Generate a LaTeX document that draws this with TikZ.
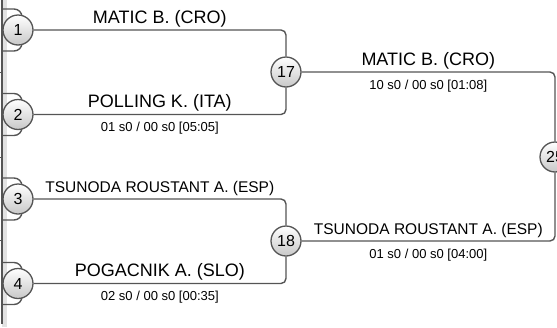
\documentclass[tikz,border=0pt]{standalone}
\usepackage{fontspec}
\setmainfont{Liberation Sans}
\definecolor{wiregray}{HTML}{555555}
\definecolor{bandgray}{HTML}{E2E2E2}
\definecolor{ballgray}{HTML}{C8C8C8}

\begin{document}
\begin{tikzpicture}[x=1pt,y=-1pt,
    wire/.style={wiregray,line width=1.4pt,rounded corners=5pt},
    seed/.style={circle,draw=wiregray,line width=1.3pt,top color=white,bottom color=ballgray,minimum size=30pt,inner sep=0pt,font=\fontsize{16}{16}\selectfont},
    player/.style={text=black,font=\fontsize{18}{18}\selectfont,anchor=base,yshift=7pt,inner sep=0pt},
    longplayer/.style={player,font=\fontsize{15.5}{15.5}\selectfont},
    score/.style={text=black,font=\fontsize{13}{13}\selectfont,anchor=base,yshift=-17pt,inner sep=0pt}]
    \useasboundingbox (0,0) rectangle (557,327);
    \fill[bandgray] (2,0) rectangle (7,327);
    \draw[wiregray,line width=1.5pt] (1.8,0) -- (1.8,324);
    \foreach \y in {72,157,240} \draw[wiregray,line width=1pt] (0,\y) -- (2,\y);
    \foreach \y in {30,114.5,199,283.5} \draw[wire,rounded corners=8pt] (2,\y-21) -- (22,\y-21) -- (22,\y+21) -- (2,\y+21);
    \node[seed] (s1) at (18,30) {1};
    \node[seed] (s2) at (18,114.5) {2};
    \node[seed] (s3) at (18,199) {3};
    \node[seed] (s4) at (18,283.5) {4};
    \node[seed] (m17) at (286,72) {17};
    \node[seed] (m18) at (286,241) {18};
    \node[seed] (m25) at (555,157) {25};
    \draw[wire] (s1.east) -| (m17.north) node[player,pos=.25] (p1) {MATIC B. (CRO)};
    \draw[wire] (s2.east) -| (m17.south) node[player,pos=.25] (p2) {POLLING K. (ITA)}
        node[score,pos=.25] (r17) {01 s0 / 00 s0 [05:05]};
    \draw[wire] (s3.east) -| (m18.north) node[longplayer,pos=.25] (p3) {TSUNODA ROUSTANT A. (ESP)};
    \draw[wire] (s4.east) -| (m18.south) node[player,pos=.25] (p4) {POGACNIK A. (SLO)}
        node[score,pos=.25] (r18) {02 s0 / 00 s0 [00:35]};
    \draw[wire] (m17.east) -| (m25.north) node[player,pos=.25] (w17) {MATIC B. (CRO)}
        node[score,pos=.25] (r25a) {10 s0 / 00 s0 [01:08]};
    \draw[wire] (m18.east) -| (m25.south) node[longplayer,pos=.25] (w18) {TSUNODA ROUSTANT A. (ESP)}
        node[score,pos=.25] (r25b) {01 s0 / 00 s0 [04:00]};
\end{tikzpicture}
\end{document}
